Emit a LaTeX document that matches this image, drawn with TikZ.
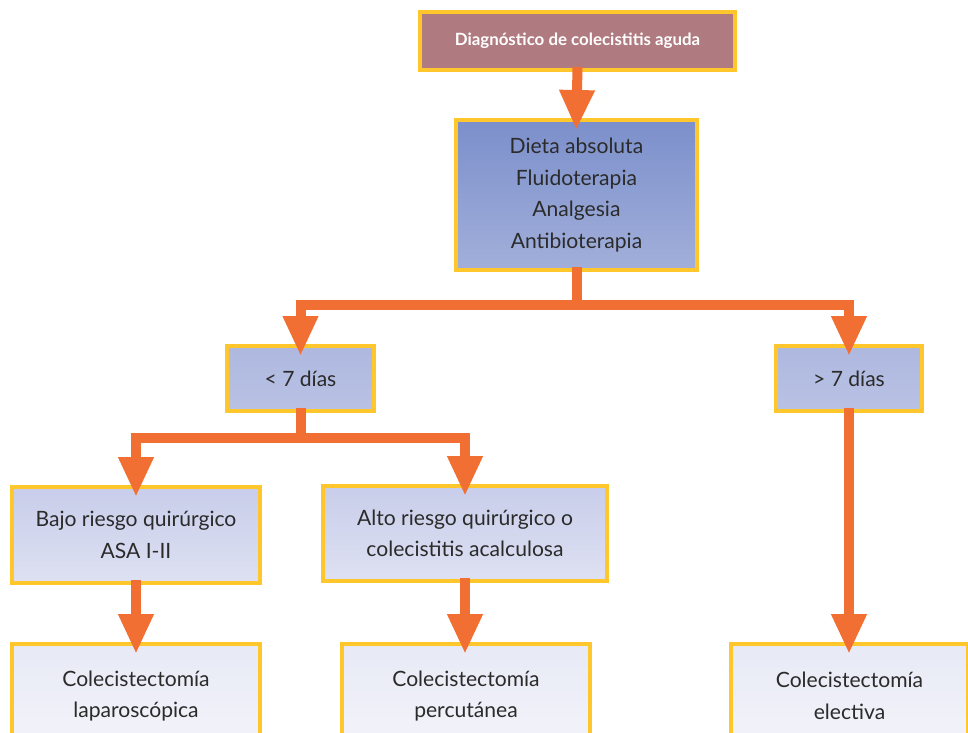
\documentclass[tikz,border=0pt]{standalone}
\usepackage{fontspec}
\setmainfont{Lato}
\usetikzlibrary{arrows.meta}
\definecolor{flujo}{HTML}{F26F33}
\definecolor{borde}{HTML}{FFC72C}
\definecolor{texto}{HTML}{2B2B2B}
\definecolor{diagfondo}{HTML}{B07B80}
\definecolor{azulA}{HTML}{7B8FCB}
\definecolor{azulB}{HTML}{A2AFDA}
\definecolor{azulC}{HTML}{AEB8DF}
\definecolor{azulD}{HTML}{B9C2E4}
\definecolor{azulE}{HTML}{C8CDEA}
\definecolor{azulF}{HTML}{DEE1F2}
\definecolor{azulG}{HTML}{E7E9F5}
\definecolor{azulH}{HTML}{F3F4FA}
\tikzset{
  caja/.style={draw=borde, line width=0.08cm, align=center, text=texto, inner sep=0pt,
    font=\fontsize{12}{18}\selectfont},
  flecha/.style={draw=flujo, line width=0.2cm, -{Triangle[width=0.66cm,length=0.8cm]},
    shorten >=-0.24cm}
}
\begin{document}
\begin{tikzpicture}[x=0.02cm,y=-0.02cm]
\clip (0,0) rectangle (968,733);
\node[caja, fill=diagfondo, text=white, font=\bfseries\fontsize{9.6}{11}\selectfont,
  minimum width=6.3cm, minimum height=1.16cm] (diag) at (577.5,41) {Diagnóstico de colecistitis aguda};
\node[caja, top color=azulA, bottom color=azulB, minimum width=4.82cm, minimum height=3cm] (dieta) at (576.5,195)
  {Dieta absoluta\\Fluidoterapia\\Analgesia\\Antibioterapia};
\node[caja, top color=azulC, bottom color=azulD, minimum width=2.94cm, minimum height=1.3cm] (menos) at (300.5,378.5) {< 7 días};
\node[caja, top color=azulC, bottom color=azulD, minimum width=2.92cm, minimum height=1.3cm] (mas) at (849,378.5) {> 7 días};
\node[caja, top color=azulE, bottom color=azulF, minimum width=4.96cm, minimum height=1.92cm] (bajo) at (136,535)
  {Bajo riesgo quirúrgico\\ASA I-II};
\node[caja, top color=azulE, bottom color=azulF, minimum width=5.68cm, minimum height=1.9cm] (alto) at (465,533.5)
  {Alto riesgo quirúrgico o\\colecistitis acalculosa};
\node[caja, top color=azulG, bottom color=azulH, minimum width=4.96cm, minimum height=2.08cm] (lap) at (136,696)
  {Colecistectomía\\laparoscópica};
\node[caja, top color=azulG, bottom color=azulH, minimum width=4.96cm, minimum height=2.08cm] (perc) at (466,696)
  {Colecistectomía\\percutánea};
\node[caja, top color=azulG, bottom color=azulH, minimum width=4.74cm, minimum height=2.08cm] (elec) at (849.5,696)
  {Colecistectomía\\electiva};
\draw[flecha] ([yshift=0.1cm]diag.south) -- (dieta.north);
\draw[flecha] ([yshift=0.1cm]dieta.south) -- ++(0,38) -| (menos.north);
\draw[flecha] ([yshift=0.1cm]dieta.south) -- ++(0,38) -| (mas.north);
\draw[flecha] ([yshift=0.1cm]menos.south) -- ++(0,30) -| (bajo.north);
\draw[flecha] ([yshift=0.1cm]menos.south) -- ++(0,30) -| (alto.north);
\draw[flecha] ([yshift=0.1cm]bajo.south) -- (bajo.south |- lap.north);
\draw[flecha] ([yshift=0.1cm]alto.south) -- (alto.south |- perc.north);
\draw[flecha] ([yshift=0.1cm]mas.south) -- (mas.south |- elec.north);
\end{tikzpicture}
\end{document}
